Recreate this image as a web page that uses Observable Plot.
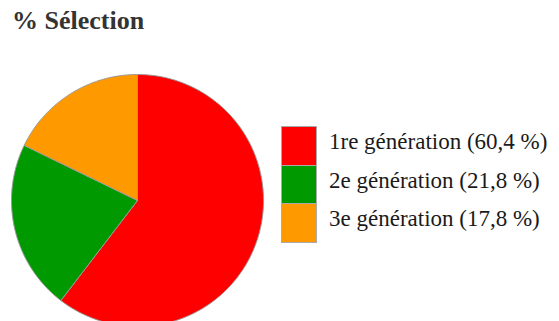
<!DOCTYPE html>
<html><head><meta charset="utf-8">
<script src="https://cdn.jsdelivr.net/npm/d3@7"></script>
<script src="https://cdn.jsdelivr.net/npm/@observablehq/plot@0.6"></script>
<style>
html, body, div { font-family: "Liberation Serif", Tinos, "Times New Roman", Times, "DejaVu Serif", serif !important; }
</style>
</head>
<body style="margin:0;background:#fff;width:559px;height:321px;overflow:hidden;position:relative;">
<div id="title" style="position:absolute;left:12px;top:4px;font-weight:bold;font-size:26px;line-height:34px;color:#333;white-space:nowrap;">% Sélection</div>
<div id="chart" style="position:absolute;left:0;top:48px;"></div>
<div id="legend" style="position:absolute;left:281px;top:126px;"></div>
<script>
const categories = ["1re génération", "2e génération", "3e génération"];
const values = [60.4, 21.8, 17.8];
const colors = ["#ff0000", "#009900", "#ff9900"];
const labels = ["60,4 %", "21,8 %", "17,8 %"];

const data = categories.map((c, i) => ({c, v: values[i]}));
const arcs = d3.pie().sort(null).value(d => d.v)(data);
const pts = [];
arcs.forEach(a => {
  pts.push({c: a.data.c, x: 0, y: 0});
  const n = Math.max(2, Math.ceil((a.endAngle - a.startAngle) / 0.01));
  for (let k = 0; k <= n; k++) {
    const t = a.startAngle + (a.endAngle - a.startAngle) * k / n;
    pts.push({c: a.data.c, x: Math.sin(t), y: Math.cos(t)});
  }
  pts.push({c: a.data.c, x: 0, y: 0});
});

const plot = Plot.plot({
  width: 559, height: 273,
  margin: 0,
  x: {domain: [-1, 1], range: [11, 263], axis: null},
  y: {domain: [-1, 1], range: [278, 26], axis: null},
  color: {domain: categories, range: colors},
  marks: [
    Plot.line(pts, {x: "x", y: "y", z: "c", fill: "c", stroke: "#999", strokeWidth: 1, curve: "linear"})
  ]
});
document.getElementById("chart").appendChild(plot);

const leg = document.getElementById("legend");
categories.forEach((c, i) => {
  const r = document.createElement("div");
  r.setAttribute("style", "position:relative;height:38.6px");
  const s = document.createElement("div");
  s.setAttribute("style", `position:absolute;left:0;top:0;width:34px;height:37.6px;border:1px solid #aaa;${i === categories.length - 1 ? "" : "border-bottom:none;"}background:${colors[i]}`);
  const l = document.createElement("div");
  l.setAttribute("style", "position:absolute;left:48px;top:-3px;font-size:23px;line-height:38.5px;color:#1a1a1a;white-space:nowrap");
  l.textContent = `${c} (${labels[i]})`;
  r.appendChild(s); r.appendChild(l); leg.appendChild(r);
});
</script>
</body></html>
